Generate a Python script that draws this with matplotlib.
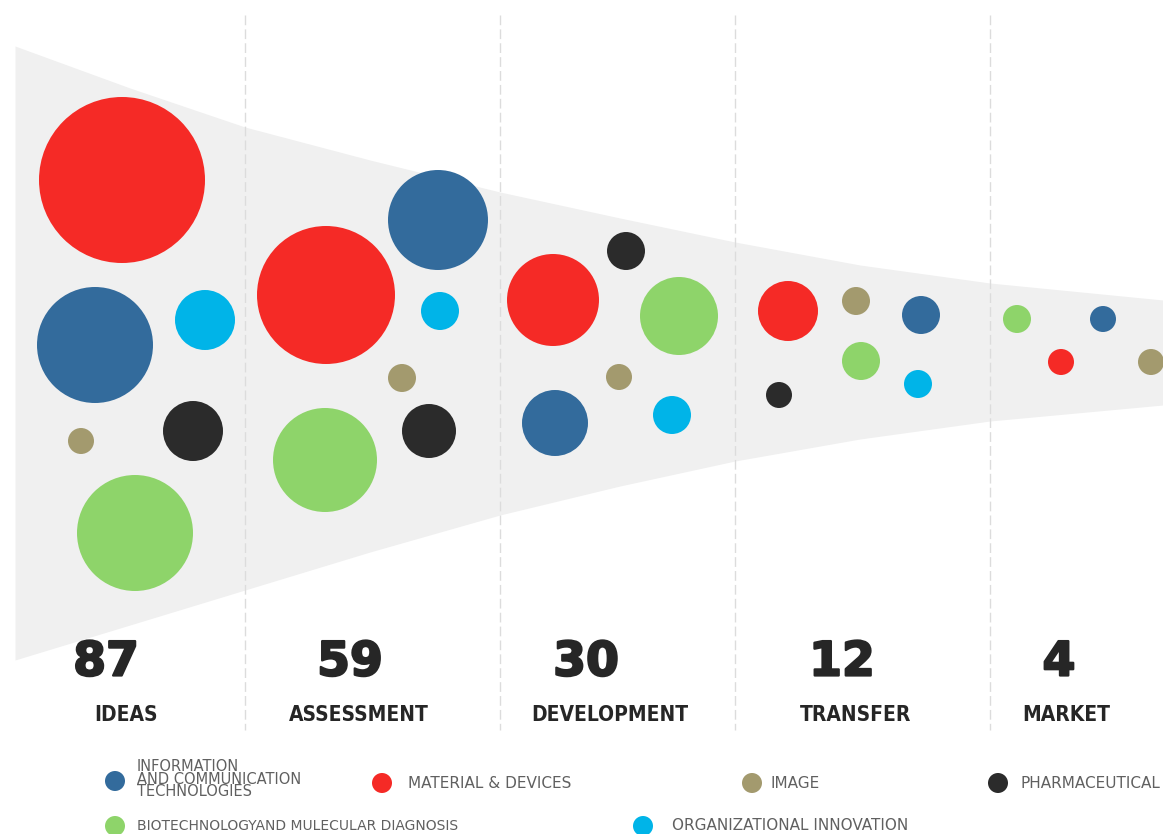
import matplotlib
matplotlib.use("Agg")
import matplotlib.pyplot as plt
import matplotlib.patheffects as pe
from matplotlib.patches import Circle

# ----------------------------------------------------------------------
# данные
stages = ['IDEAS', 'ASSESSMENT', 'DEVELOPMENT', 'TRANSFER', 'MARKET']
totals = [87, 59, 30, 12, 4]
stage_num_x = [106, 350, 586, 842, 1059]
stage_lab_x = [126, 359, 610, 856, 1066]
divider_x = [245, 500, 735, 990]

categories = ['ict', 'material', 'image', 'pharma', 'bio', 'org']
cat_colors = {'ict': '#336b9c', 'material': '#f52a26', 'image': '#a39a6e',
              'pharma': '#2b2b2b', 'bio': '#8ed46a', 'org': '#00b4e8'}

# пузыри: категория, x, y, радиус (пиксели)
bub_cat = ['material', 'ict', 'org', 'pharma', 'image', 'bio',
           'material', 'ict', 'org', 'image', 'pharma', 'bio',
           'material', 'pharma', 'bio', 'image', 'ict', 'org',
           'material', 'image', 'ict', 'bio', 'org', 'pharma',
           'bio', 'ict', 'material', 'image']
bub_x = [122, 95, 205, 193, 81, 135,
         326, 438, 440, 402, 429, 325,
         553, 626, 679, 619, 555, 672,
         788, 856, 921, 861, 918, 779,
         1017, 1103, 1061, 1151]
bub_y = [180, 345, 320, 431, 441, 533,
         295, 220, 311, 378, 431, 460,
         300, 251, 316, 377, 423, 415,
         311, 301, 315, 361, 384, 395,
         319, 319, 362, 362]
bub_r = [83, 58, 30, 30, 13, 58,
         69, 50, 19, 14, 27, 52,
         46, 19, 39, 13, 33, 19,
         30, 14, 19, 19, 14, 13,
         14, 13, 13, 13]

# контур воронки (верх / низ)
funnel_x = [15, 130, 245, 370, 500, 620, 735, 860, 990, 1163]
funnel_top = [46, 88, 127, 160, 192, 218, 242, 265, 283, 300]
funnel_bot = [660, 625, 590, 552, 515, 486, 461, 439, 421, 405]

# легенда
leg_cat = ['ict', 'material', 'image', 'pharma', 'bio', 'org']
leg_text = ['INFORMATION\nAND COMMUNICATION\nTECHNOLOGIES', 'MATERIAL & DEVICES',
            'IMAGE', 'PHARMACEUTICAL', 'BIOTECHNOLOGYAND MULECULAR DIAGNOSIS',
            'ORGANIZATIONAL INNOVATION']
leg_mx = [115, 382, 752, 998, 115, 643]
leg_tx = [137, 408, 770, 1020, 137, 672]
leg_y = [779, 783, 783, 783, 826, 826]
leg_fs = [10.5, 11, 11, 11, 10, 11]

# ----------------------------------------------------------------------
W, H = 1163, 834
fig = plt.figure(figsize=(W / 100, H / 100), dpi=100)
ax = fig.add_axes([0, 0, 1, 1])
ax.set_xlim(0, W)
ax.set_ylim(H, 0)
ax.axis('off')

# воронка
ax.fill_between(funnel_x, funnel_top, funnel_bot, color='#f0f0f0', lw=0, zorder=1)

# разделители
for x in divider_x:
    ax.plot([x, x], [15, 730], color='#dcdcdc', lw=1.0, ls=(0, (7, 3)), zorder=2)

# пузыри
for c, x, y, r in zip(bub_cat, bub_x, bub_y, bub_r):
    ax.add_patch(Circle((x, y), r, color=cat_colors[c], lw=0, zorder=3))

# числа и подписи этапов
heavy = [pe.withStroke(linewidth=1.6, foreground='#262626')]
for t, nx, s, lx in zip(totals, stage_num_x, stages, stage_lab_x):
    ax.text(nx, 663, str(t), ha='center', va='center', fontsize=34,
            fontweight='bold', family='DejaVu Sans', color='#262626',
            path_effects=heavy)
    ax.text(lx, 715, s, ha='center', va='center', fontsize=15,
            fontweight='bold', family='DejaVu Sans', fontstretch='condensed',
            color='#262626')

# легенда
for c, t, mx, tx, y, fs in zip(leg_cat, leg_text, leg_mx, leg_tx, leg_y, leg_fs):
    ax.add_patch(Circle((mx, y if c != 'ict' else 781), 10, color=cat_colors[c],
                        lw=0, zorder=3))
    ax.text(tx, y, t, ha='left', va='center', fontsize=fs,
            family='DejaVu Sans', color='#606060', linespacing=0.8)

fig.savefig('out.png', dpi=100)
